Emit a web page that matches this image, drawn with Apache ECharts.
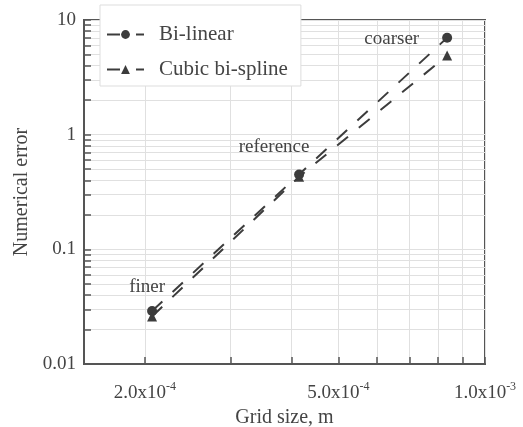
<!DOCTYPE html>
<html>
<head>
<meta charset="utf-8">
<script src="https://cdn.jsdelivr.net/npm/echarts@6.0.0/dist/echarts.min.js"></script>
<style>
html,body{margin:0;padding:0;background:#fff;}
#chart{width:523px;height:427px;}
</style>
</head>
<body>
<div id="chart"></div>
<script>
// ---- data ----
var gridSize = [2.07e-4, 4.15e-4, 8.36e-4];          // Grid size, m
var biLinear = [0.029, 0.45, 7.0];                   // Numerical error, Bi-linear
var cubicSpline = [0.026, 0.43, 4.9];                // Numerical error, Cubic bi-spline
var pointNames = ['finer', 'reference', 'coarser'];
var seriesNames = ['Bi-linear', 'Cubic bi-spline'];
var xTickLabels = [2.0e-4, 5.0e-4, 1.0e-3];
var yTickLabels = [0.01, 0.1, 1, 10];
var xRange = [1.5e-4, 1.0e-3];
var yRange = [0.01, 10];

var FONT = 'Liberation Serif';
var TXT = '#444';
var DARK = '#3c3c3c';
var DASH = [14, 14];
var lg = Math.log10;

function minorLogTicks(lo, hi) {
  var out = [];
  var n0 = Math.floor(lg(lo) + 1e-9), n1 = Math.ceil(lg(hi) - 1e-9);
  for (var n = n0; n <= n1; n++) {
    for (var k = 1; k <= 9; k++) {
      var v = k * Math.pow(10, n);
      if (v >= lo * (1 - 1e-9) && v <= hi * (1 + 1e-9)) out.push(lg(v));
    }
  }
  return out;
}

function xFmt(v) {
  var val = Math.pow(10, v);
  var e = Math.floor(v + 1e-9);
  var m = val / Math.pow(10, e);
  return '{m|' + m.toFixed(1) + 'x10}{e|' + e + '}';
}
function yFmt(v) {
  return String(parseFloat(Math.pow(10, v).toPrecision(6)));
}

function mkData(ys) {
  return gridSize.map(function (x, i) { return [lg(x), lg(ys[i])]; });
}

var labelPos = [
  { position: 'top', offset: [-5, -4] },
  { position: 'top', offset: [-25, -8] },
  { position: 'left', distance: 23, offset: [0, 1] }
];

var bilData = mkData(biLinear).map(function (d, i) {
  return {
    value: d,
    label: Object.assign({ show: true, formatter: pointNames[i], fontFamily: FONT, fontSize: 19, color: TXT }, labelPos[i])
  };
});

var chart = echarts.init(document.getElementById('chart'), null, { renderer: 'canvas' });
chart.setOption({
  animation: false,
  backgroundColor: '#fff',
  grid: { left: 84, right: 38, top: 20, bottom: 63, outerBoundsMode: 'none', containLabel: false, show: true, borderColor: '#555', borderWidth: 2, backgroundColor: 'transparent' },
  legend: {
    orient: 'vertical',
    left: 100, top: 5,
    padding: [19, 13, 6, 6],
    itemGap: 14,
    itemWidth: 37, itemHeight: 11,
    backgroundColor: '#fff',
    borderColor: '#ddd', borderWidth: 1,
    lineStyle: { type: [13, 16], width: 2 },
    textStyle: { fontFamily: FONT, fontSize: 21, color: TXT, padding: [0, 0, 0, 10] },
    data: seriesNames
  },
  xAxis: {
    type: 'value',
    min: lg(xRange[0]), max: lg(xRange[1]),
    axisLine: { show: true, onZero: false, lineStyle: { color: '#555', width: 2 } },
    axisTick: { show: true, inside: true, length: 7, customValues: minorLogTicks(xRange[0], xRange[1]).filter(function (v) { return v > lg(xRange[0]) + 1e-6; }), lineStyle: { color: '#555', width: 1.5 } },
    splitLine: { show: true, lineStyle: { color: '#e0e0e0', width: 1 } },
    axisLabel: {
      customValues: xTickLabels.map(lg),
      formatter: xFmt,
      margin: 17,
      color: TXT,
      rich: {
        m: { fontFamily: FONT, fontSize: 19, color: TXT, lineHeight: 24 },
        e: { fontFamily: FONT, fontSize: 12, color: TXT, verticalAlign: 'top', lineHeight: 24 }
      }
    },
    name: 'Grid size, m',
    nameLocation: 'middle',
    nameGap: 43,
    nameTextStyle: { fontFamily: FONT, fontSize: 20, color: TXT }
  },
  yAxis: {
    type: 'value',
    min: lg(yRange[0]), max: lg(yRange[1]), interval: 1,
    axisLine: { show: true, onZero: false, lineStyle: { color: '#555', width: 2 } },
    axisTick: { show: true, inside: true, length: 7, customValues: minorLogTicks(yRange[0], yRange[1]), lineStyle: { color: '#555', width: 1.5 } },
    splitLine: { show: true, lineStyle: { color: '#e0e0e0', width: 1 } },
    axisLabel: {
      customValues: yTickLabels.map(lg),
      formatter: yFmt,
      margin: 8,
      fontFamily: FONT, fontSize: 19, color: TXT
    },
    name: 'Numerical error',
    nameLocation: 'middle',
    nameGap: 43,
    nameTextStyle: { fontFamily: FONT, fontSize: 20, color: TXT }
  },
  series: [
    {
      name: seriesNames[0], type: 'line',
      data: bilData,
      symbol: 'circle', symbolSize: 10,
      itemStyle: { color: DARK },
      lineStyle: { color: DARK, width: 2, type: DASH },
      z: 3
    },
    {
      name: seriesNames[1], type: 'line',
      data: mkData(cubicSpline),
      symbol: 'triangle', symbolSize: 10,
      itemStyle: { color: DARK },
      lineStyle: { color: DARK, width: 2, type: DASH },
      z: 3
    }
  ]
});
</script>
</body>
</html>
